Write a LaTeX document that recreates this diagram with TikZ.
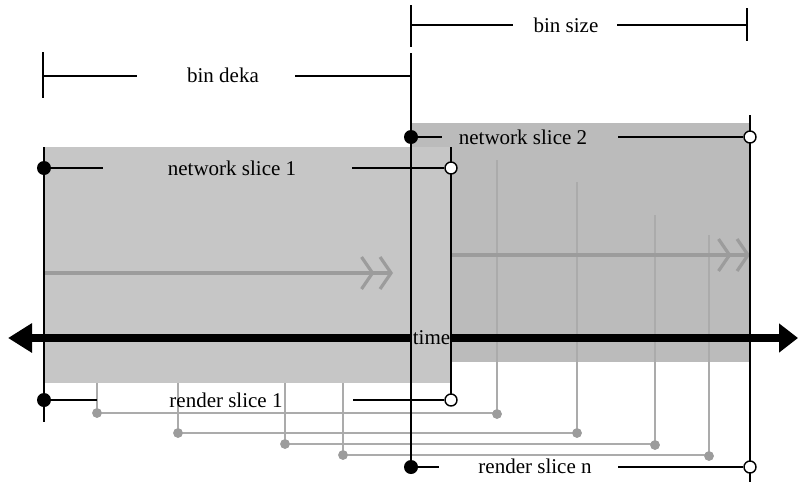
\documentclass[tikz,border=0pt]{standalone}
\usepackage{fontspec}
\setmainfont{Liberation Serif}
\usetikzlibrary{arrows.meta}
\definecolor{gA}{HTML}{C6C6C6}
\definecolor{gB}{HTML}{BBBBBB}
\definecolor{gL}{HTML}{ABABAB}
\definecolor{gD}{HTML}{9C9C9C}
\begin{document}
\begin{tikzpicture}[x=1pt,y=-1pt,
  lbl/.style={font=\fontsize{21}{23}\selectfont, inner sep=0pt},
  ml/.style={line width=2.2pt},
  sl/.style={line width=1.7pt},
  vl/.style={line width=1.7pt},
  rl/.style={gL, line width=1.5pt},
  fdot/.style={circle, fill=black, minimum size=14pt, inner sep=0pt},
  odot/.style={circle, draw=black, fill=white, line width=1.4pt, minimum size=12pt, inner sep=0pt},
  gdot/.style={circle, fill=gD, minimum size=9.5pt, inner sep=0pt},
  flow/.style={gD, line width=3.2pt, -{Straight Barb[length=11pt,width=32pt,sep=4pt]Straight Barb[length=11pt,width=32pt]}},
]
\useasboundingbox (0,0) rectangle (798,482);

% slice areas
\fill[gB] (411,123) rectangle (750,362);
\fill[gA] (44,147) rectangle (451,383);

% render slices (gray brackets)
\coordinate (s1) at (97,383);  \coordinate (e1) at (497,160);
\coordinate (s2) at (178,383); \coordinate (e2) at (577,182);
\coordinate (s3) at (285,383); \coordinate (e3) at (655,215);
\coordinate (s4) at (343,383); \coordinate (e4) at (709,235);
\node[gdot] (a1) at (97,413) {};  \node[gdot] (b1) at (497,414) {};
\node[gdot] (a2) at (178,433) {}; \node[gdot] (b2) at (577,433) {};
\node[gdot] (a3) at (285,444) {}; \node[gdot] (b3) at (655,445) {};
\node[gdot] (a4) at (343,455) {}; \node[gdot] (b4) at (709,456) {};
\draw[rl] (s1) -- (a1.center) -- (b1.center |- a1.center) -- (e1);
\draw[rl] (s2) -- (a2.center) -- (b2.center |- a2.center) -- (e2);
\draw[rl] (s3) -- (a3.center) -- (b3.center |- a3.center) -- (e3);
\draw[rl] (s4) -- (a4.center) -- (b4.center |- a4.center) -- (e4);
\node[gdot] at (b1) {}; \node[gdot] at (b2) {}; \node[gdot] at (b3) {}; \node[gdot] at (b4) {};
\node[gdot] at (a1) {}; \node[gdot] at (a2) {}; \node[gdot] at (a3) {}; \node[gdot] at (a4) {};

% flow arrows
\coordinate (f1s) at (44,273);  \coordinate (f1e) at (393,273);
\coordinate (f2s) at (451,255); \coordinate (f2e) at (750,255);
\draw[flow] (f1s) -- (f1e);
\draw[flow] (f2s) -- (f2e);

% time axis
\coordinate (tl) at (8,338);
\coordinate (tr) at (798,338);
\draw[line width=8pt, {Triangle[length=24pt,width=28pt]}-{Triangle[length=19pt,width=28pt]}] (tl) -- (tr);
\node[lbl, fill=gA, inner xsep=1.5pt, inner ysep=3pt] (time) at (431.5,338) {time};

% vertical boundaries
\draw[vl] (44,147) -- (44,422);
\draw[vl] (411,53) -- (411,467);
\draw[vl] (451,147) -- (451,400);
\draw[vl] (750,115) -- (750,482);

% bin deka
\draw[ml] (43,52) -- (43,98);
\node[lbl] (deka) at (223,75) {bin deka};
\draw[ml] (43,76) -- (137,76);
\draw[ml] (295,76) -- (411,76);

% bin size
\draw[ml] (411,5) -- (411,47);
\draw[ml] (747,8) -- (747,41);
\node[lbl] (size) at (566,25) {bin size};
\draw[ml] (411,25) -- (513,25);
\draw[ml] (617,25) -- (747,25);

% network slice 1
\node[lbl] (ns1) at (232,168) {network slice 1};
\node[fdot] (ns1a) at (44,168) {};
\node[odot] (ns1b) at (451,168) {};
\draw[sl] (ns1a.center) -- (103,168);
\draw[sl] (352,168) -- (ns1b.west);

% network slice 2
\node[lbl] (ns2) at (523,137) {network slice 2};
\node[fdot] (ns2a) at (411,137) {};
\node[odot] (ns2b) at (750,137) {};
\draw[sl] (ns2a.center) -- (442,137);
\draw[sl] (618,137) -- (ns2b.west);

% render slice 1
\node[lbl] (rs1) at (226,400) {render slice 1};
\node[fdot] (rs1a) at (44,400) {};
\node[odot] (rs1b) at (451,400) {};
\draw[sl] (rs1a.center) -- (97,400);
\draw[sl] (353,400) -- (rs1b.west);

% render slice n
\node[lbl] (rsn) at (535,466) {render slice n};
\node[fdot] (rsna) at (411,467) {};
\node[odot] (rsnb) at (750,467) {};
\draw[sl] (rsna.center) -- (439,467);
\draw[sl] (618,467) -- (rsnb.west);
\end{tikzpicture}
\end{document}
